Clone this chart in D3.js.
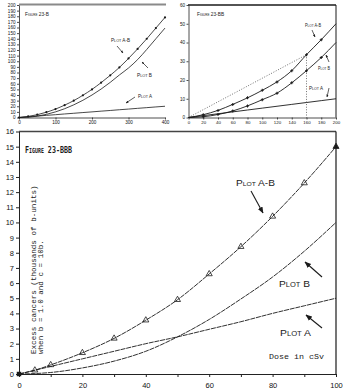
<!DOCTYPE html>
<html>
<head>
<meta charset="utf-8">
<script src="https://cdn.jsdelivr.net/npm/d3@7"></script>
<style>
  body { margin: 0; background: #fff; }
  svg { display: block; }
  .ax text { font-family: "Liberation Sans", Arial, sans-serif; fill: #111; }
  .ax path, .ax line { stroke: #222; }
</style>
</head>
<body>
<svg id="chart" width="344" height="392"></svg>
<script>
// ---- Main figure: excess cancers vs dose (0-100 cSv) ----
const mainDose = [0, 5, 10, 20, 30, 40, 50, 60, 70, 80, 90, 100];
const mainPlotAB = [0, 0.25, 0.6, 1.4, 2.35, 3.55, 4.9, 6.6, 8.4, 10.4, 12.6, 15.0];
const mainPlotB = [0, 0.03, 0.1, 0.4, 0.85, 1.5, 2.45, 3.6, 4.95, 6.4, 8.1, 10.0];
const mainPlotA = [0, 0.25, 0.5, 1.0, 1.5, 2.0, 2.45, 2.95, 3.45, 4.0, 4.5, 5.0];
const mainYTicks = d3.range(0, 17, 1);
const mainXTicks = d3.range(0, 101, 10);
const mainXLabels = [0, 20, 40, 60, 80, 100];

// ---- Left inset: 0-400 cSv ----
const leftDose = [0, 25, 50, 75, 100, 125, 150, 175, 200, 225, 250, 275, 300, 325, 350, 375, 400];
const leftPlotAB = [0, 1.9, 5, 9.4, 15, 22, 30, 39.5, 50, 62, 75, 89, 105, 122, 140, 159, 178];
const leftPlotB = [0, 0.6, 2.5, 5.6, 10, 15.6, 22.5, 30.6, 40, 50.6, 62.5, 75.6, 88, 103, 121, 140, 159];
const leftPlotA = [0, 1.3, 2.5, 3.8, 5, 6.3, 7.5, 8.8, 10, 11.3, 12.5, 13.8, 15, 16.3, 17.5, 18.8, 20];
const leftYTicks = d3.range(0, 201, 10);
const leftXTicks = [0, 100, 200, 300, 400];

// ---- Right inset: 0-200 cSv ----
const rightDose = [0, 20, 40, 60, 80, 100, 120, 140, 160, 180, 200];
const rightPlotAB = [0, 1.5, 3.8, 7, 10.5, 14.5, 19, 25, 33.5, 41.5, 50];
const rightPlotB = [0, 0.4, 1.6, 3.5, 6.2, 9.5, 13, 18.5, 25, 32, 40];
const rightPlotA = [0, 1, 2, 3, 4, 5, 6, 7, 8, 9, 10];
const rightLinearDose = [0, 160];
const rightLinearVal = [0, 33.5];
const rightYTicks = [0, 10, 20, 30, 40, 50, 60];
const rightXTicks = d3.range(0, 201, 20);

const svg = d3.select("#chart");
const ink = "#1a1a1a";

// arrowhead used by the plot callouts
const defs = svg.append("defs");
defs.append("marker")
  .attr("id", "head")
  .attr("viewBox", "0 0 10 10")
  .attr("refX", 9).attr("refY", 5)
  .attr("markerWidth", 6).attr("markerHeight", 6)
  .attr("orient", "auto")
  .append("path").attr("d", "M0,1 L10,5 L0,9 Z").attr("fill", ink);
defs.append("marker")
  .attr("id", "headSmall")
  .attr("viewBox", "0 0 10 10")
  .attr("refX", 9).attr("refY", 5)
  .attr("markerWidth", 4).attr("markerHeight", 4)
  .attr("orient", "auto")
  .append("path").attr("d", "M0,1 L10,5 L0,9 Z").attr("fill", ink);

function series(xs, ys) { return xs.map((d, i) => [d, ys[i]]); }

function callout(g, text, tx, ty, size, x1, y1, x2, y2, marker, width) {
  g.append("text")
    .attr("x", tx).attr("y", ty)
    .attr("font-family", "Liberation Sans, Arial, sans-serif")
    .attr("font-size", size)
    .attr("font-variant", "small-caps")
    .attr("fill", ink)
    .attr("textLength", width)
    .attr("lengthAdjust", "spacingAndGlyphs")
    .text(text);
  g.append("line")
    .attr("x1", x1).attr("y1", y1).attr("x2", x2).attr("y2", y2)
    .attr("stroke", ink).attr("stroke-width", marker === "head" ? 1.1 : 0.7)
    .attr("marker-end", `url(#${marker})`);
}

// ================= MAIN CHART =================
{
  const x = d3.scaleLinear().domain([0, 100]).range([19, 336]);
  const y = d3.scaleLinear().domain([0, 16]).range([374, 131.5]);
  const g = svg.append("g");

  // frame: top and right edges
  g.append("line").attr("x1", 19).attr("x2", 336).attr("y1", 131.5).attr("y2", 131.5)
    .attr("stroke", "#444").attr("stroke-width", 1.6);
  g.append("line").attr("x1", 336).attr("x2", 336).attr("y1", 131.5).attr("y2", 374)
    .attr("stroke", ink).attr("stroke-width", 1.2);

  const yAxis = g.append("g").attr("class", "ax").attr("transform", "translate(19,0)")
    .call(d3.axisLeft(y).tickValues(mainYTicks).tickSize(3).tickSizeOuter(0).tickPadding(2)
      .tickFormat(d3.format("d")));
  yAxis.selectAll("text").attr("font-size", 7.5);

  const xAxis = g.append("g").attr("class", "ax").attr("transform", "translate(0,374)")
    .call(d3.axisBottom(x).tickValues(mainXTicks).tickSize(3).tickSizeOuter(0).tickPadding(6)
      .tickFormat(d => mainXLabels.includes(d) ? d : ""));
  xAxis.selectAll("text").attr("font-size", 7.5);

  const line = d3.line().x(d => x(d[0])).y(d => y(d[1])).curve(d3.curveMonotoneX);
  [mainPlotAB, mainPlotB, mainPlotA].forEach(vals => {
    g.append("path").datum(series(mainDose, vals))
      .attr("d", line).attr("fill", "none")
      .attr("stroke", ink).attr("stroke-width", 0.9)
      .attr("stroke-dasharray", "5,0.8");
  });

  // triangle markers on Plot A-B
  g.selectAll(".tri").data(series(mainDose, mainPlotAB).slice(1)).join("path")
    .attr("transform", d => `translate(${x(d[0])},${y(d[1])})`)
    .attr("d", d3.symbol(d3.symbolTriangle, 16))
    .attr("fill", (d, i, n) => i === n.length - 1 ? ink : "none")
    .attr("stroke", ink).attr("stroke-width", 0.8);
  g.append("path").attr("transform", `translate(${x(0)},${y(0)})`)
    .attr("d", d3.symbol(d3.symbolSquare, 20)).attr("fill", ink);

  // title
  g.append("text").attr("x", 25).attr("y", 153)
    .attr("font-family", "DejaVu Sans Mono, monospace").attr("font-size", 9.5)
    .attr("font-weight", "bold").attr("font-variant", "small-caps")
    .attr("textLength", 47).attr("lengthAdjust", "spacingAndGlyphs")
    .attr("fill", ink).text("Figure 23-BBB");

  // rotated axis caption
  const cap = g.append("g").attr("font-family", "Liberation Mono, monospace")
    .attr("font-size", 7.6).attr("fill", "#222");
  cap.append("text").attr("transform", "translate(35.5,354) rotate(-90)")
    .text("Excess cancers (thousands of b-units)");
  cap.append("text").attr("transform", "translate(42.5,354) rotate(-90)")
    .text("when b = 1.0 and c = 10b.");

  g.append("text").attr("x", 269).attr("y", 359)
    .attr("font-family", "Liberation Mono, monospace").attr("font-size", 7)
    .attr("textLength", 55).attr("lengthAdjust", "spacingAndGlyphs")
    .attr("fill", "#222").text("Dose in cSv");

  callout(g, "Plot A-B", 236, 186, 9, 251, 191, 263, 213, "head", 39);
  callout(g, "Plot B", 279, 287, 9.5, 322, 277, 305, 262, "head", 31);
  callout(g, "Plot A", 280, 336, 9.5, 322, 328, 306, 315, "head", 31);
}

// ================= LEFT INSET =================
{
  const x = d3.scaleLinear().domain([0, 400]).range([19, 165]);
  const y = d3.scaleLinear().domain([0, 200]).range([117.5, 5]);
  const g = svg.append("g");

  g.append("line").attr("x1", 19).attr("x2", 166).attr("y1", 4.5).attr("y2", 4.5)
    .attr("stroke", "#8a8a8a").attr("stroke-width", 2.2);

  const ya = g.append("g").attr("class", "ax").attr("transform", "translate(19,0)")
    .call(d3.axisLeft(y).tickValues(leftYTicks).tickSize(2).tickSizeOuter(0).tickPadding(1.5));
  ya.selectAll("text").attr("font-size", 4.6);
  ya.selectAll("path,line").attr("stroke-width", 0.8);
  const xa = g.append("g").attr("class", "ax").attr("transform", "translate(0,117.5)")
    .call(d3.axisBottom(x).tickValues(leftXTicks).tickSize(2).tickSizeOuter(0).tickPadding(1.5));
  xa.selectAll("text").attr("font-size", 4.6);
  xa.selectAll("path,line").attr("stroke-width", 0.8);

  const line = d3.line().x(d => x(d[0])).y(d => y(d[1])).curve(d3.curveMonotoneX);
  [leftPlotAB, leftPlotB, leftPlotA].forEach(vals => {
    g.append("path").datum(series(leftDose, vals)).attr("d", line)
      .attr("fill", "none").attr("stroke", ink).attr("stroke-width", 0.8);
  });
  g.selectAll(".dot").data(series(leftDose, leftPlotAB)).join("circle")
    .attr("cx", d => x(d[0])).attr("cy", d => y(d[1])).attr("r", 1.1).attr("fill", ink);

  g.append("text").attr("x", 25).attr("y", 16)
    .attr("font-family", "Liberation Sans, Arial, sans-serif").attr("font-size", 4.8)
    .attr("font-variant", "small-caps").attr("fill", ink).text("Figure 23-B");

  callout(g, "Plot A-B", 111, 42, 5, 117, 46, 123, 53, "headSmall", 19);
  callout(g, "Plot B", 137, 77, 5, 148, 68, 142, 62, "headSmall", 15);
  callout(g, "Plot A", 138, 98, 5, 135, 97, 126, 103, "headSmall", 14);
}

// ================= RIGHT INSET =================
{
  const x = d3.scaleLinear().domain([0, 200]).range([188.5, 336]);
  const y = d3.scaleLinear().domain([0, 60]).range([117.5, 5]);
  const g = svg.append("g");

  g.append("line").attr("x1", 188).attr("x2", 336).attr("y1", 5).attr("y2", 5)
    .attr("stroke", ink).attr("stroke-width", 1.4);
  g.append("line").attr("x1", 336).attr("x2", 336).attr("y1", 5).attr("y2", 117.5)
    .attr("stroke", ink).attr("stroke-width", 1);

  const ya = g.append("g").attr("class", "ax").attr("transform", "translate(188.5,0)")
    .call(d3.axisLeft(y).tickValues(rightYTicks).tickSize(2).tickSizeOuter(0).tickPadding(1.5));
  ya.selectAll("text").attr("font-size", 4.6);
  ya.selectAll("path,line").attr("stroke-width", 0.8);
  const xa = g.append("g").attr("class", "ax").attr("transform", "translate(0,117.5)")
    .call(d3.axisBottom(x).tickValues(rightXTicks).tickSize(2).tickSizeOuter(0).tickPadding(1.5));
  xa.selectAll("text").attr("font-size", 4.4);
  xa.selectAll("path,line").attr("stroke-width", 0.8);

  // linear extrapolation and its drop line
  const lin = series(rightLinearDose, rightLinearVal);
  g.append("path").datum(lin).attr("d", d3.line().x(d => x(d[0])).y(d => y(d[1])))
    .attr("stroke", "#333").attr("stroke-width", 0.7).attr("stroke-dasharray", "1,1.6").attr("fill", "none");
  g.append("line").attr("x1", x(lin[1][0])).attr("x2", x(lin[1][0]))
    .attr("y1", y(lin[1][1])).attr("y2", y(0))
    .attr("stroke", "#333").attr("stroke-width", 0.7).attr("stroke-dasharray", "1,1.6");

  const line = d3.line().x(d => x(d[0])).y(d => y(d[1])).curve(d3.curveMonotoneX);
  [rightPlotAB, rightPlotB, rightPlotA].forEach(vals => {
    g.append("path").datum(series(rightDose, vals)).attr("d", line)
      .attr("fill", "none").attr("stroke", ink).attr("stroke-width", 0.9);
  });
  [rightPlotAB, rightPlotB].forEach(vals => {
    g.selectAll(null).data(series(rightDose, vals).slice(1, -1)).join("path")
      .attr("transform", d => `translate(${x(d[0])},${y(d[1])})`)
      .attr("d", d3.symbol(d3.symbolCross, 5)).attr("fill", ink);
  });

  g.append("text").attr("x", 197).attr("y", 16)
    .attr("font-family", "Liberation Sans, Arial, sans-serif").attr("font-size", 4.8)
    .attr("font-variant", "small-caps").attr("fill", ink).text("Figure 23-BB");

  callout(g, "Plot A-B", 305, 27, 5, 312, 30, 315, 37, "headSmall", 16);
  callout(g, "Plot B", 318, 70, 5, 329, 62, 326, 55, "headSmall", 12);
  callout(g, "Plot A", 309, 90, 5, 329, 88, 327, 97, "headSmall", 14);
}
</script>
</body>
</html>
